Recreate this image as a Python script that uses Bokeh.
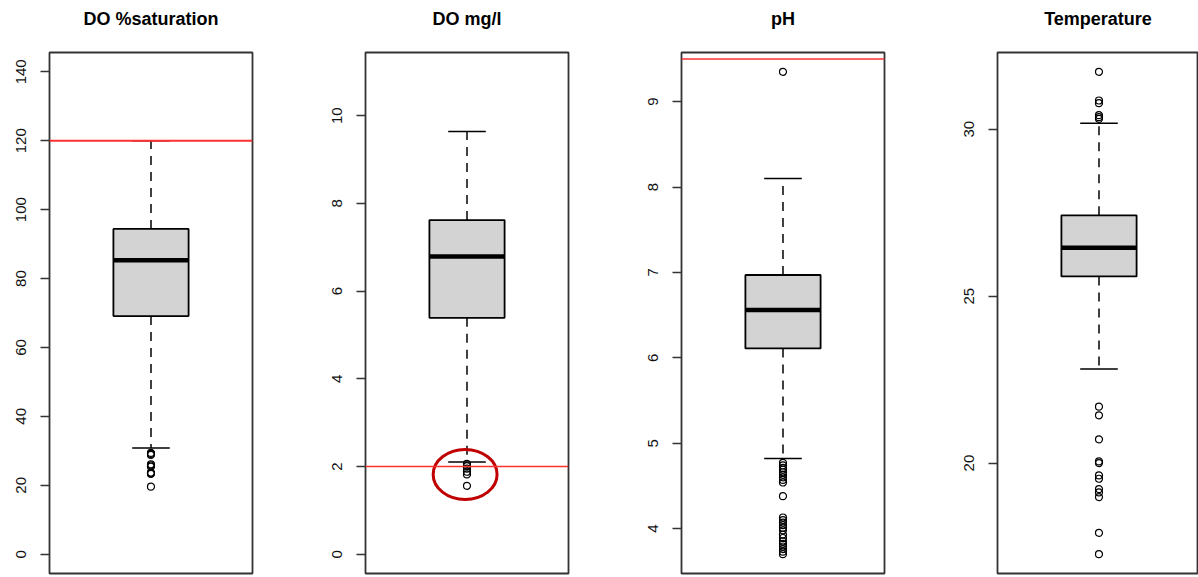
from bokeh.plotting import figure
from bokeh.layouts import row
from bokeh.models import FixedTicker, Span, Range1d, Title
from bokeh.embed import file_html
from bokeh.resources import INLINE

# ---------------- data ----------------
titles = ["DO %saturation", "DO mg/l", "pH", "Temperature"]

# [lower whisker, Q1, median, Q3, upper whisker]
do_sat_stats = [30.8, 69.1, 85.3, 94.4, 120.0]
do_sat_out = [29.4, 29.1, 28.8, 26.1, 25.8, 25.4, 23.7, 23.5, 23.3, 19.6]

do_mg_stats = [2.10, 5.39, 6.79, 7.62, 9.64]
do_mg_out = [2.06, 2.01, 1.95, 1.88, 1.82, 1.56]

ph_stats = [4.82, 6.11, 6.56, 6.97, 8.10]
ph_out = [9.35, 4.77, 4.74, 4.71, 4.69, 4.66, 4.63, 4.60, 4.57, 4.54, 4.38,
          4.13, 4.10, 4.07, 4.04, 4.01, 3.98, 3.93, 3.89, 3.85, 3.82, 3.79,
          3.76, 3.73, 3.70]

temp_stats = [22.82, 25.59, 26.45, 27.42, 30.18]
temp_out = [31.72, 30.86, 30.78, 30.42, 30.36, 30.31, 21.69, 21.43, 20.71,
            20.05, 20.00, 19.63, 19.53, 19.22, 19.12, 18.98, 17.91, 17.27]

y_limits = [(0, 140), (0, 11), None, None]
y_ticks = [[0, 20, 40, 60, 80, 100, 120, 140],
           [0, 2, 4, 6, 8, 10],
           [4, 5, 6, 7, 8, 9],
           [20, 25, 30]]
ref_lines = [120, 2, 9.5, None]

# red ellipse highlighting the low DO mg/l values (panel 2)
highlight_center = (0.99, 1.82)
highlight_size = (0.34, 1.14)

all_stats = [do_sat_stats, do_mg_stats, ph_stats, temp_stats]
all_out = [do_sat_out, do_mg_out, ph_out, temp_out]

# ---------------- layout ----------------
FONT = "Liberation Sans"
TOTAL_W = 1198
PANEL_W = 316
BL, BR = 49, 64
FRAME_W = PANEL_W - BL - BR          # 203
H = 576
BT, BB = 52, 3
FRAME_H = H - BT - BB                # 521
R_FRAME_H = 521                      # frame height in the reference


def make_panel(i):
    stats = all_stats[i]
    outs = all_out[i]
    last = i == 3
    width = TOTAL_W - 3 * PANEL_W if last else PANEL_W
    br = 0 if last else BR
    fw = width - BL - br
    x0 = 0.46
    x1 = x0 + 1.08 * fw / FRAME_W

    if y_limits[i] is not None:
        lo, hi = y_limits[i]
    else:
        vals = stats + outs
        lo, hi = min(vals), max(vals)
    pad = 0.04 * (hi - lo)
    lo_p, hi_p = lo - pad, hi + pad
    y_start = hi_p - (hi_p - lo_p) * FRAME_H / R_FRAME_H

    p = figure(width=width, height=H, output_backend="svg", toolbar_location=None,
               x_range=Range1d(x0, x1), y_range=Range1d(y_start, hi_p),
               min_border_left=BL, min_border_right=br,
               min_border_top=BT, min_border_bottom=BB,
               x_axis_location=None)
    p.grid.visible = False
    p.background_fill_color = "white"
    p.border_fill_color = "white"
    p.outline_line_color = "#333333"
    p.outline_line_width = 1.8

    # spacer (closest to the frame) then the real title above it
    p.add_layout(Title(text=" ", text_font_size="1px", standoff=15), "above")
    p.add_layout(Title(text=titles[i], align="center", text_font=FONT,
                       text_font_size="18px", text_font_style="bold",
                       text_color="black", standoff=12), "above")

    ax = p.yaxis[0]
    ax.ticker = FixedTicker(ticks=y_ticks[i])
    ax.major_label_orientation = "vertical"
    ax.major_label_text_font = FONT
    ax.major_label_text_font_size = "15px"
    ax.major_label_text_color = "#111111"
    ax.major_tick_out = 9
    ax.major_tick_in = 0
    ax.minor_tick_out = 0
    ax.minor_tick_in = 0
    ax.axis_line_color = None
    ax.major_tick_line_color = "#333333"
    ax.major_tick_line_width = 1.5
    ax.major_label_standoff = 14

    lw, q1, med, q3, uw = stats
    xc = 1.0
    # whiskers
    p.segment(x0=[xc, xc], y0=[q3, q1], x1=[xc, xc], y1=[uw, lw],
              line_color="black", line_width=1.5, line_dash="9 7")
    # staples
    p.segment(x0=[xc - 0.1, xc - 0.1], y0=[lw, uw], x1=[xc + 0.1, xc + 0.1], y1=[lw, uw],
              line_color="black", line_width=1.5)
    # box
    p.quad(left=[xc - 0.2], right=[xc + 0.2], bottom=[q1], top=[q3],
           fill_color="#d3d3d3", line_color="black", line_width=1.8)
    # median
    p.segment(x0=[xc - 0.2], y0=[med], x1=[xc + 0.2], y1=[med],
              line_color="black", line_width=4.5)
    # outliers
    p.scatter(x=[xc] * len(outs), y=outs, marker="circle", size=7,
              fill_color=None, line_color="black", line_width=1.2)

    if ref_lines[i] is not None:
        p.add_layout(Span(location=ref_lines[i], dimension="width",
                          line_color="#ff3030", line_width=2 if i == 0 else 1.6))
    if i == 1:
        p.ellipse(x=[highlight_center[0]], y=[highlight_center[1]],
                  width=[highlight_size[0]], height=[highlight_size[1]],
                  fill_color=None, line_color="#c00000", line_width=3)
    return p


panels = [make_panel(i) for i in range(4)]
layout = row(*panels)

open("out.html", "w").write(file_html(layout, INLINE))
